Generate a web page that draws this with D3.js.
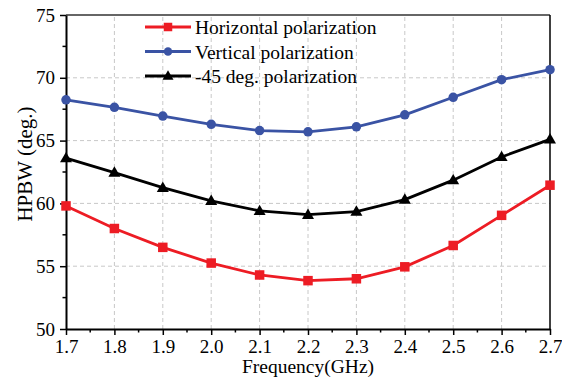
<!DOCTYPE html>
<html><head><meta charset="utf-8">
<script src="https://cdn.jsdelivr.net/npm/d3@7"></script>
<style>
html,body{margin:0;padding:0;background:#fff;}
text{font-family:"Liberation Serif","Times New Roman",serif;fill:#000;}
</style></head>
<body>
<svg id="chart" width="562" height="380"></svg>
<script>
const frequencies = [1.7, 1.8, 1.9, 2.0, 2.1, 2.2, 2.3, 2.4, 2.5, 2.6, 2.7];
const horizontal = [59.8, 58.0, 56.5, 55.25, 54.3, 53.85, 54.0, 54.95, 56.65, 59.05, 61.45];
const vertical = [68.25, 67.65, 66.95, 66.3, 65.8, 65.7, 66.1, 67.05, 68.45, 69.85, 70.65];
const minus45 = [63.6, 62.45, 61.25, 60.2, 59.4, 59.1, 59.35, 60.3, 61.85, 63.7, 65.1];
const xTicks = [1.7, 1.8, 1.9, 2.0, 2.1, 2.2, 2.3, 2.4, 2.5, 2.6, 2.7];
const yTicks = [50, 55, 60, 65, 70, 75];
const seriesNames = ["Horizontal polarization", "Vertical polarization", "-45 deg. polarization"];
const xLabel = "Frequency(GHz)";
const yLabel = "HPBW (deg.)";

const series = [
  {name: seriesNames[0], values: horizontal, color: "#ed1c24", marker: "square"},
  {name: seriesNames[1], values: vertical, color: "#3a53a4", marker: "circle"},
  {name: seriesNames[2], values: minus45, color: "#000000", marker: "triangle"}
];

const svg = d3.select("#chart");
const m = {left: 66, right: 12, top: 15, bottom: 51};
const W = 562, H = 380;
const x = d3.scaleLinear().domain([1.7, 2.7]).range([m.left, W - m.right]);
const y = d3.scaleLinear().domain([50, 75]).range([H - m.bottom, m.top]);

// grid
const grid = svg.append("g");
grid.selectAll("line.gx").data(xTicks.slice(1, -1)).enter().append("line")
  .attr("x1", d => x(d)).attr("x2", d => x(d)).attr("y1", y(50)).attr("y2", y(75))
  .attr("stroke", "#c8c8c8").attr("stroke-width", 1).attr("stroke-dasharray", "4,3");
grid.selectAll("line.gy").data(yTicks.slice(1, -1)).enter().append("line")
  .attr("y1", d => y(d)).attr("y2", d => y(d)).attr("x1", x(1.7)).attr("x2", x(2.7))
  .attr("stroke", "#c8c8c8").attr("stroke-width", 1).attr("stroke-dasharray", "4,3");

// frame top/right
svg.append("line").attr("x1", x(1.7)).attr("x2", x(2.7)).attr("y1", y(75)).attr("y2", y(75))
  .attr("stroke", "#333").attr("stroke-width", 1.5);
svg.append("line").attr("x1", x(2.7)).attr("x2", x(2.7)).attr("y1", y(75)).attr("y2", y(50))
  .attr("stroke", "#000").attr("stroke-width", 1.5);

// minor ticks
const xMinor = d3.range(10).map(i => xTicks[i] + 0.05);
const yMinor = d3.range(5).map(i => yTicks[i] + 2.5);

// x axis
const xAxis = svg.append("g").attr("transform", `translate(0,${y(50)})`)
  .call(d3.axisBottom(x).tickValues(xTicks).tickFormat(d3.format(".1f")).tickSize(6).tickSizeOuter(0).tickPadding(5));
xAxis.append("g").selectAll("line").data(xMinor).enter().append("line")
  .attr("x1", d => x(d)).attr("x2", d => x(d)).attr("y1", 0).attr("y2", 3.5).attr("stroke", "#000").attr("stroke-width", 1.5);

// y axis
const yAxis = svg.append("g").attr("transform", `translate(${x(1.7)},0)`)
  .call(d3.axisLeft(y).tickValues(yTicks).tickSize(6).tickSizeOuter(0).tickPadding(5));
yAxis.append("g").selectAll("line").data(yMinor).enter().append("line")
  .attr("y1", d => y(d)).attr("y2", d => y(d)).attr("x1", 0).attr("x2", -3.5).attr("stroke", "#000").attr("stroke-width", 1.5);

[xAxis, yAxis].forEach(a => {
  a.select(".domain").attr("stroke", "#000").attr("stroke-width", 2);
  a.selectAll(".tick line").attr("stroke", "#000").attr("stroke-width", 1.5);
  a.selectAll(".tick text").attr("font-family", "Liberation Serif").attr("font-size", 19).attr("fill", "#000");
});

// axis titles
svg.append("text").attr("x", (x(1.7) + x(2.7)) / 2).attr("y", 373).attr("text-anchor", "middle")
  .attr("font-size", 19.5).text(xLabel);
svg.append("text").attr("transform", `translate(32,${(y(50) + y(75)) / 2 - 8}) rotate(-90)`)
  .attr("text-anchor", "middle").attr("font-size", 21).text(yLabel);

// markers
function drawMarker(g, type, cx, cy, color, s) {
  if (type === "square") {
    g.append("rect").attr("x", cx - s / 2).attr("y", cy - s / 2).attr("width", s).attr("height", s).attr("fill", color);
  } else if (type === "circle") {
    g.append("circle").attr("cx", cx).attr("cy", cy).attr("r", s / 2).attr("fill", color);
  } else {
    const h = s * 0.95;
    g.append("path").attr("d", `M${cx},${cy - h * 0.6}L${cx + s / 2 + 0.5},${cy + h * 0.4}L${cx - s / 2 - 0.5},${cy + h * 0.4}Z`).attr("fill", color);
  }
}

const line = d3.line().x((d, i) => x(frequencies[i])).y(d => y(d));
series.forEach(s => {
  const g = svg.append("g");
  g.append("path").attr("d", line(s.values)).attr("fill", "none").attr("stroke", s.color).attr("stroke-width", 2.8);
  s.values.forEach((v, i) => drawMarker(g, s.marker, x(frequencies[i]), y(v), s.color, s.marker === "triangle" ? 11 : 9.5));
});

// legend
const legend = svg.append("g");
series.forEach((s, i) => {
  const ly = 27 + i * 24.5;
  legend.append("line").attr("x1", 145).attr("x2", 191).attr("y1", ly).attr("y2", ly)
    .attr("stroke", s.color).attr("stroke-width", 2.8);
  drawMarker(legend, s.marker, 168, ly, s.color, s.marker === "triangle" ? 10 : 8.5);
  legend.append("text").attr("x", 195).attr("y", ly + 7).attr("font-size", 19.5).text(s.name);
});
</script>
</body></html>
